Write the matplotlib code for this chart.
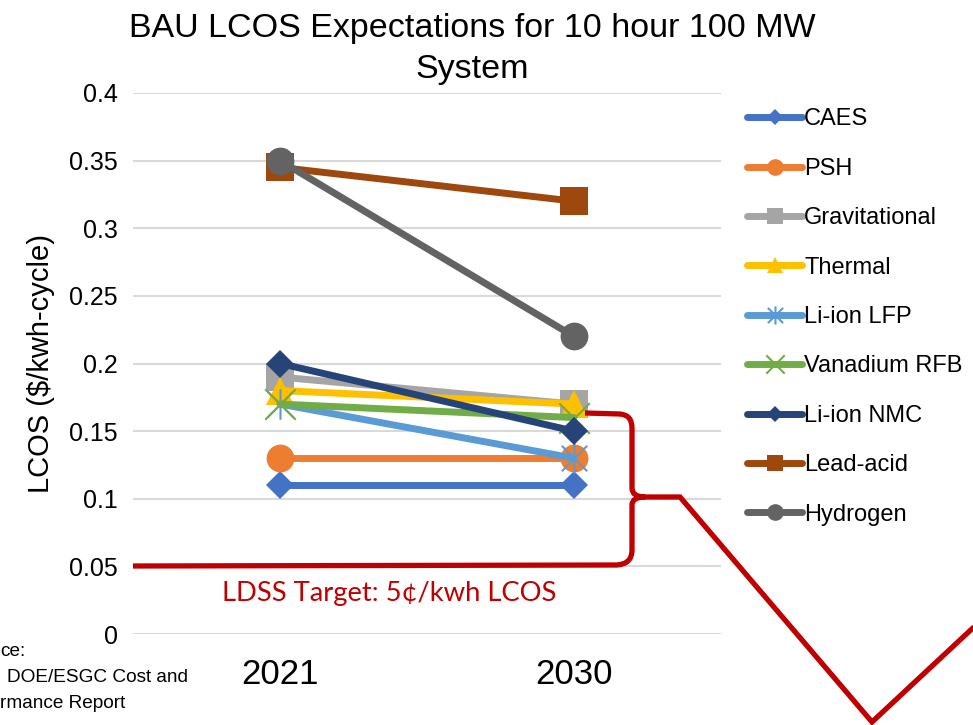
import matplotlib
matplotlib.use("Agg")
import matplotlib.pyplot as plt
from matplotlib.path import Path
from matplotlib.patches import PathPatch
from matplotlib.transforms import Affine2D

plt.rcParams["font.family"] = ["Liberation Sans", "DejaVu Sans"]

# --- data ---
years = ["2021", "2030"]
techs = ["CAES", "PSH", "Gravitational", "Thermal", "Li-ion LFP",
         "Vanadium RFB", "Li-ion NMC", "Lead-acid", "Hydrogen"]
caes = [0.11, 0.11]
psh = [0.13, 0.13]
gravitational = [0.19, 0.17]
thermal = [0.18, 0.17]
li_lfp = [0.17, 0.13]
vanadium = [0.17, 0.16]
li_nmc = [0.20, 0.15]
lead_acid = [0.345, 0.32]
hydrogen = [0.35, 0.22]
yticks = [0, 0.05, 0.1, 0.15, 0.2, 0.25, 0.3, 0.35, 0.4]
target_text = "LDSS Target: 5¢/kwh LCOS"

# excel style asterisk marker (x + vertical bar)
star_path = Path([(-0.5, -0.5), (0.5, 0.5), (-0.5, 0.5), (0.5, -0.5), (0, -0.6), (0, 0.6)],
                 [Path.MOVETO, Path.LINETO, Path.MOVETO, Path.LINETO, Path.MOVETO, Path.LINETO])
x_path = Path([(-0.5, -0.5), (0.5, 0.5), (-0.5, 0.5), (0.5, -0.5)],
              [Path.MOVETO, Path.LINETO, Path.MOVETO, Path.LINETO])

series = [
    (caes, "#4472C4", "D", 14),
    (psh, "#ED7D31", "o", 20),
    (gravitational, "#A5A5A5", "s", 20),
    (thermal, "#FFC000", "^", 20),
    (li_lfp, "#5B9BD5", star_path, 22),
    (vanadium, "#70AD47", x_path, 22),
    (li_nmc, "#264478", "D", 14),
    (lead_acid, "#9E480E", "s", 20),
    (hydrogen, "#636363", "o", 20),
]

fig = plt.figure(figsize=(9.73, 7.25), dpi=100)
ax = fig.add_axes([133 / 973, 1 - 634 / 725, 588 / 973, 541 / 725])

x = list(range(len(years)))
for (vals, color, marker, ms), name in zip(series, techs):
    is_line = marker is star_path or marker is x_path
    ax.plot(x, vals, color=color, lw=5, marker=marker, markersize=ms,
            markerfacecolor=color, markeredgecolor=color,
            markeredgewidth=1.5 if is_line else 0, label=name,
            solid_capstyle="round")

ax.set_xlim(-0.5, 1.5)
ax.set_ylim(0, 0.4)
ax.set_yticks(yticks)
ax.set_yticklabels([f"{v:g}" for v in yticks])
ax.set_xticks(x)
ax.set_xticklabels(years)
ax.tick_params(axis="y", length=0, pad=11, labelsize=18)
ax.tick_params(axis="x", length=0, pad=17, labelsize=25)
ax.grid(axis="y", color="#D9D9D9", lw=1.5)
ax.set_axisbelow(True)
for s in ax.spines.values():
    s.set_visible(False)
ax.set_ylabel("LCOS ($/kwh-cycle)", fontsize=21, labelpad=10)

fig.text(472 / 973, 1 - 13 / 725, "BAU LCOS Expectations for 10 hour 100 MW\nSystem",
         ha="center", va="top", fontsize=24.5, linespacing=1.42)

leg = ax.legend(loc="upper left", bbox_to_anchor=(738 / 973, 1 - 99 / 725),
                bbox_transform=fig.transFigure, frameon=False, fontsize=17,
                markerscale=0.6, handlelength=2.3, handletextpad=0.1,
                labelspacing=1.16, borderaxespad=0)

# red brace annotation, in picture pixels
px = Affine2D().scale(1 / 973, -1 / 725).translate(0, 1) + fig.transFigure
red = "#C00000"
verts = [(133, 566), (617, 565), (632, 564), (632, 550), (632, 505), (632, 497), (645, 497),
         (585, 413), (620, 414), (632, 415), (632, 428), (632, 488), (632, 497), (645, 497),
         (680, 497), (872, 722), (990, 612)]
codes = [Path.MOVETO, Path.LINETO, Path.CURVE3, Path.CURVE3, Path.LINETO, Path.CURVE3, Path.CURVE3,
         Path.MOVETO, Path.LINETO, Path.CURVE3, Path.CURVE3, Path.LINETO, Path.CURVE3, Path.CURVE3,
         Path.LINETO, Path.LINETO, Path.LINETO]
fig.patches.append(PathPatch(Path(verts, codes), transform=px, fill=False,
                             edgecolor=red, lw=3.8, joinstyle="miter", capstyle="butt"))

fig.text(222 / 973, 1 - 593 / 725, target_text, color=red, fontsize=19.7,
         family=["Lato", "DejaVu Sans"], va="center", ha="left")

# source note, only the part visible in the picture
fig.text(0, 1 - 652 / 725, "ce:", fontsize=13.7, va="center")
fig.text(7 / 973, 1 - 678 / 725, "DOE/ESGC Cost and", fontsize=13.7, va="center")
fig.text(0, 1 - 704 / 725, "rmance Report", fontsize=13.7, va="center")

fig.savefig("out.png", dpi=100)
